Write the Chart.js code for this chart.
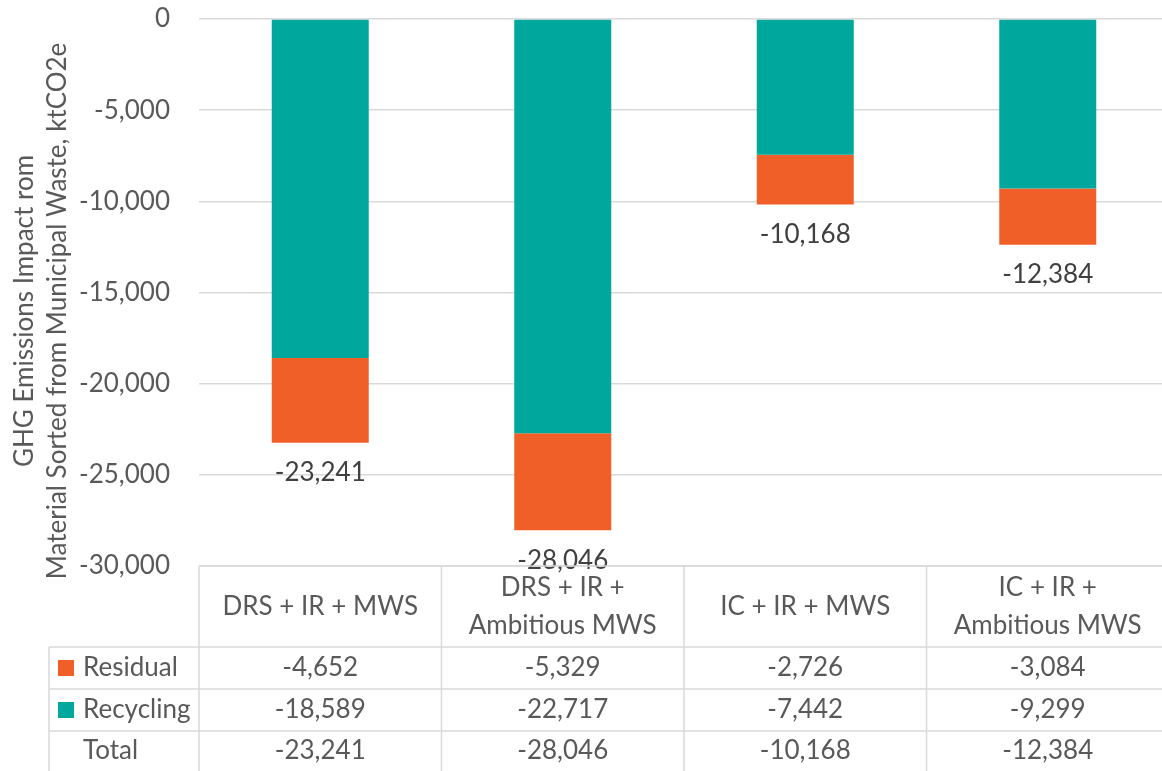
<!DOCTYPE html>
<html>
<head>
<meta charset="utf-8">
<script src="https://cdn.jsdelivr.net/npm/chart.js@4"></script>
<style>
html,body{margin:0;padding:0;overflow:hidden;background:#fff;width:1162px;height:771px;}
#wrap{position:absolute;left:0;top:0;width:1170px;height:771px;}
</style>
</head>
<body>
<div id="wrap"><canvas id="c" width="1170" height="771"></canvas></div>
<script>
const categories = [["DRS + IR + MWS"], ["DRS + IR +", "Ambitious MWS"], ["IC + IR + MWS"], ["IC + IR +", "Ambitious MWS"]];
const residual = [-4652, -5329, -2726, -3084];
const recycling = [-18589, -22717, -7442, -9299];
const totals = [-23241, -28046, -10168, -12384];
const yTicks = [0, -5000, -10000, -15000, -20000, -25000, -30000];
const yTitle = ["GHG Emissions Impact rom", "Material Sorted from Municipal Waste, ktCO2e"];

const TEAL = '#00A79D', ORANGE = '#F15F29';
const FONT = 'Lato, "Open Sans", sans-serif';
const FS = 26;
const fmt = v => v.toLocaleString('en-US');

const overlay = {
  id: 'overlay',
  afterDraw(chart) {
    const ctx = chart.ctx, ca = chart.chartArea, ys = chart.scales.y;
    const n = categories.length, w = (ca.right - ca.left) / n;
    ctx.save();
    // total labels below bars
    ctx.fillStyle = '#404040';
    ctx.font = FS + 'px ' + FONT;
    ctx.textAlign = 'center'; ctx.textBaseline = 'middle';
    totals.forEach((t, i) => {
      ctx.fillText(fmt(t), ca.left + w * (i + 0.5), ys.getPixelForValue(t) + 30);
    });
    // table
    const top = ca.bottom, hdrB = 647, r1 = 689, r2 = 731, bot = 771, tl = 49;
    ctx.strokeStyle = '#d9d9d9'; ctx.lineWidth = 1.5;
    const line = (x1, y1, x2, y2) => { ctx.beginPath(); ctx.moveTo(x1, y1); ctx.lineTo(x2, y2); ctx.stroke(); };
    line(ca.left, top, ca.right, top);
    [hdrB, r1, r2].forEach(y => line(tl, y, ca.right, y));
    line(tl, hdrB, tl, bot);
    for (let i = 0; i <= n; i++) line(ca.left + w * i, top, ca.left + w * i, bot);
    ctx.fillStyle = '#595959';
    categories.forEach((lab, i) => {
      const cx = ca.left + w * (i + 0.5);
      const cy = (top + hdrB) / 2;
      const lh = 38;
      lab.forEach((s, k) => ctx.fillText(s, cx, cy + (k - (lab.length - 1) / 2) * lh));
    });
    const rows = [
      {name: 'Residual', color: ORANGE, vals: residual, y: (hdrB + r1) / 2},
      {name: 'Recycling', color: TEAL, vals: recycling, y: (r1 + r2) / 2},
      {name: 'Total', color: null, vals: totals, y: (r2 + bot) / 2}
    ];
    rows.forEach(r => {
      if (r.color) { ctx.fillStyle = r.color; ctx.fillRect(58, r.y - 8, 16, 16); }
      ctx.fillStyle = '#595959';
      ctx.textAlign = 'left';
      ctx.fillText(r.name, 83, r.y);
      ctx.textAlign = 'center';
      r.vals.forEach((v, i) => ctx.fillText(fmt(v), ca.left + w * (i + 0.5), r.y));
    });
    // y axis title
    ctx.fillStyle = '#595959';
    ctx.translate(0, 311);
    ctx.rotate(-Math.PI / 2);
    ctx.fillText(yTitle[0], 0, 25);
    ctx.fillText(yTitle[1], 0, 58);
    ctx.restore();
  }
};

new Chart(document.getElementById('c'), {
  type: 'bar',
  data: {
    labels: categories.map(c => c.join(' ')),
    datasets: [
      {label: 'Recycling', data: recycling, backgroundColor: TEAL, barPercentage: 0.4, categoryPercentage: 1},
      {label: 'Residual', data: residual, backgroundColor: ORANGE, barPercentage: 0.4, categoryPercentage: 1}
    ]
  },
  options: {
    responsive: false, animation: false,
    layout: {padding: {left: 0, right: 1, top: 19, bottom: 205}},
    plugins: {legend: {display: false}, tooltip: {enabled: false}, title: {display: false}},
    scales: {
      x: {stacked: true, display: false},
      y: {
        stacked: true, min: -30000, max: 0,
        afterBuildTicks: s => { s.ticks = yTicks.map(v => ({value: v})); },
        afterFit: s => { s.width = 199; s.paddingTop = 0; s.paddingBottom = 0; },
        ticks: {color: '#595959', font: {family: FONT, size: FS}, padding: 29, callback: v => fmt(v)},
        grid: {color: '#d9d9d9', lineWidth: 1.5, drawTicks: false},
        border: {display: false}
      }
    }
  },
  plugins: [overlay]
});
</script>
</body>
</html>
